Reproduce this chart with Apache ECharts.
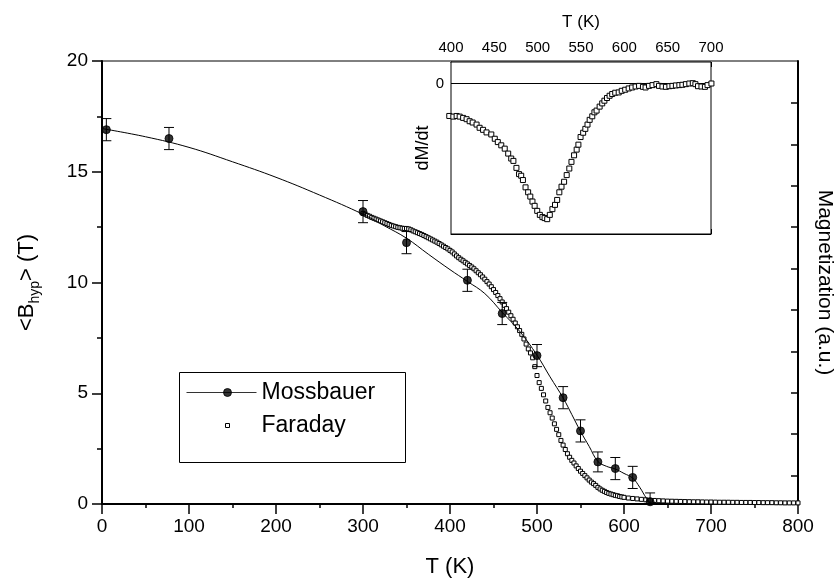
<!DOCTYPE html>
<html>
<head>
<meta charset="utf-8">
<script src="https://cdn.jsdelivr.net/npm/echarts@6/dist/echarts.min.js"></script>
<style>html,body{margin:0;padding:0;background:#fff}#c{width:837px;height:580px}</style>
</head>
<body>
<div id="c"></div>
<script>
// ---- Mossbauer data (T in K, <B_hyp> in T, error) ----
const mossT   = [5, 77, 300, 350, 420, 460, 500, 530, 550, 570, 590, 610, 630];
const mossB   = [16.9, 16.5, 13.2, 11.8, 10.1, 8.6, 6.7, 4.8, 3.3, 1.9, 1.6, 1.2, 0.1];
const mossErr = [0.5, 0.5, 0.5, 0.5, 0.5, 0.5, 0.5, 0.5, 0.5, 0.45, 0.5, 0.5, 0.4];

// ---- Mossbauer fit curve ----
const fitT = [0, 50, 100, 150, 200, 250, 300, 325, 350, 375, 400, 420, 440, 460, 480, 500, 515, 530, 540, 550, 560, 570, 580, 590, 600, 610, 618, 626, 630];
const fitB = [16.95, 16.58, 16.1, 15.45, 14.75, 13.95, 13.08, 12.55, 12.0, 11.28, 10.58, 10.05, 9.5, 8.65, 7.8, 6.72, 5.74, 4.79, 4.04, 3.28, 2.6, 1.92, 1.7, 1.58, 1.38, 1.17, 0.76, 0.24, 0.05];

// ---- Faraday magnetization (a.u., scaled) ----
const faradayT = [300,302.5,305,307.5,310,312.5,315,317.5,320,322.5,325,327.5,330,332.5,335,337.5,340,342.5,345,347.5,
350,352.5,355,357.5,360,362.5,365,367.5,370,372.5,375,377.5,380,382.5,385,387.5,390,392.5,395,397.5,
400,402.5,405,407.5,410,412.5,415,417.5,420,422.5,425,427.5,430,432.5,435,437.5,440,442.5,445,447.5,
450,452.5,455,457.5,460,462.5,465,467.5,470,472.5,475,477.5,480,482.5,485,487.5,490,492.5,495,497.5,
500,502.5,505,507.5,510,512.5,515,517.5,520,522.5,525,527.5,530,532.5,535,537.5,540,542.5,545,547.5,
550,552.5,555,557.5,560,562.5,565,567.5,570,572.5,575,577.5,580,582.5,585,587.5,590,592.5,595,597.5,600,
605,610,615,620,625,630,635,640,645,650,655,660,665,670,675,680,685,690,695,700,
705,710,715,720,725,730,735,740,745,750,755,760,765,770,775,780,785,790,795,800];
const faradayM = [13.12,13.08,13.03,12.99,12.94,12.90,12.86,12.82,12.78,12.74,12.70,12.66,12.62,12.58,12.55,12.52,12.49,12.47,12.45,12.44,
12.44,12.42,12.38,12.33,12.29,12.25,12.21,12.17,12.12,12.07,12.02,11.97,11.92,11.87,11.82,11.76,11.70,11.64,11.58,11.52,
11.45,11.38,11.29,11.20,11.12,11.05,10.98,10.91,10.84,10.77,10.70,10.62,10.53,10.44,10.35,10.25,10.15,10.04,9.93,9.81,
9.68,9.55,9.41,9.27,9.12,8.97,8.82,8.66,8.50,8.34,8.17,8.00,7.83,7.66,7.45,7.22,7.00,6.82,6.60,6.20,
5.80,5.48,5.22,4.93,4.65,4.36,4.12,3.88,3.62,3.37,3.13,2.87,2.66,2.46,2.27,2.11,1.97,1.85,1.72,1.60,
1.48,1.38,1.28,1.18,1.08,0.99,0.92,0.84,0.75,0.68,0.62,0.57,0.52,0.48,0.45,0.42,0.39,0.37,0.34,0.32,0.30,
0.27,0.25,0.23,0.21,0.19,0.17,0.16,0.15,0.14,0.13,0.125,0.12,0.115,0.11,0.105,0.10,0.10,0.095,0.09,0.09,
0.085,0.08,0.08,0.08,0.075,0.075,0.07,0.07,0.07,0.065,0.065,0.06,0.06,0.06,0.055,0.055,0.05,0.05,0.05,0.05];

// ---- Inset dM/dt ----
const insetT = [398,402.7,406.5,410,414,418,421.5,425,429.5,433,437,441,446.5,450.5,454,458,462,466,469.5,472,
475.5,478.5,481,483,486,489,491.5,494,496.5,499.5,502.5,505.5,508,511,514,517,520,522.5,525,527.5,
530.5,533.5,536.5,539,542,545,547,549.5,552.5,555,557.5,560,563,565.5,568,571.5,574.5,577,580,583,
586,589.5,593.5,597,601,605,609,613,617,621.5,624.5,628.5,632.5,637,640,644,648,652,655.5,659.5,
663.5,667,671,675,679,682,685,689,693,696,700.5];
const insetD = [-0.302,-0.308,-0.302,-0.308,-0.32,-0.332,-0.351,-0.363,-0.382,-0.412,-0.431,-0.455,-0.474,-0.514,-0.545,-0.575,-0.606,-0.652,-0.698,-0.72,
-0.785,-0.843,-0.858,-0.898,-0.966,-1.012,-1.052,-1.098,-1.138,-1.185,-1.222,-1.243,-1.252,-1.262,-1.222,-1.169,-1.129,-1.083,-1.012,-0.96,
-0.914,-0.852,-0.791,-0.729,-0.668,-0.615,-0.569,-0.498,-0.458,-0.422,-0.382,-0.338,-0.305,-0.268,-0.252,-0.215,-0.185,-0.16,-0.135,-0.114,
-0.098,-0.086,-0.083,-0.068,-0.058,-0.046,-0.037,-0.028,-0.022,-0.031,-0.037,-0.022,-0.015,-0.006,-0.022,-0.028,-0.031,-0.025,-0.022,-0.018,
-0.015,-0.012,-0.006,0,0.003,-0.006,-0.025,-0.028,-0.031,-0.015,0];

// ---- axis tick values ----
const magTicks = [1.29, 3.16, 5.02, 6.89, 8.76, 10.63, 12.50, 14.36, 16.23, 18.10];
const insetYTicks = [-1, 0];
const insetYLabels = [0];

const FONT = 'Liberation Sans, Arial, Helvetica, sans-serif';
const chart = echarts.init(document.getElementById('c'), null, {renderer: 'canvas'});

const black = '#000';
const option = {
  backgroundColor: '#fff',
  animation: false,
  textStyle: {fontFamily: FONT, color: black},
  grid: [
    {left: 102, right: 39, top: 61, bottom: 76, outerBoundsMode: 'none', containLabel: false,
     show: true, borderColor: black, borderWidth: 1, backgroundColor: 'transparent'},
    {left: 451, top: 62, width: 260, height: 172, outerBoundsMode: 'none', containLabel: false,
     show: true, borderColor: black, borderWidth: 1, backgroundColor: '#fff', z: 3}
  ],
  xAxis: [
    {gridIndex: 0, type: 'value', min: 0, max: 800, interval: 100, position: 'bottom',
     axisLine: {show: true, onZero: false, lineStyle: {color: black, width: 2}},
     axisTick: {show: true, length: 10, lineStyle: {color: black, width: 1.5}},
     minorTick: {show: true, splitNumber: 2, length: 4, lineStyle: {color: black, width: 1.5}},
     axisLabel: {fontSize: 19, margin: 13, color: black, fontFamily: FONT},
     splitLine: {show: false},
     name: 'T (K)', nameLocation: 'middle', nameGap: 52,
     nameTextStyle: {fontSize: 22, color: black, fontFamily: FONT}},
    {gridIndex: 1, type: 'value', min: 400, max: 700, interval: 50, position: 'top',
     axisLine: {show: true, onZero: false, lineStyle: {color: black, width: 1}},
     axisTick: {show: true, inside: true, length: 5, lineStyle: {color: black, width: 1}},
     minorTick: {show: true, splitNumber: 2, length: 3, lineStyle: {color: black, width: 1}},
     axisLabel: {fontSize: 15, margin: 7, color: black, fontFamily: FONT},
     splitLine: {show: false},
     name: 'T (K)', nameLocation: 'middle', nameGap: 31,
     nameTextStyle: {fontSize: 17, color: black, fontFamily: FONT}},
    {gridIndex: 1, type: 'value', min: 400, max: 700, interval: 50, position: 'bottom',
     axisLine: {show: true, onZero: false, lineStyle: {color: black, width: 1}},
     axisTick: {show: true, inside: true, length: 5, lineStyle: {color: black, width: 1}},
     minorTick: {show: true, splitNumber: 2, length: 3, lineStyle: {color: black, width: 1}},
     axisLabel: {show: false},
     splitLine: {show: false}}
  ],
  yAxis: [
    {gridIndex: 0, type: 'value', min: 0, max: 20, interval: 5, position: 'left',
     axisLine: {show: true, onZero: false, lineStyle: {color: black, width: 2}},
     axisTick: {show: true, length: 10, lineStyle: {color: black, width: 1.5}},
     minorTick: {show: true, splitNumber: 2, length: 5, lineStyle: {color: black, width: 1.5}},
     axisLabel: {fontSize: 19, margin: 14, color: black, fontFamily: FONT},
     splitLine: {show: false},
     name: '<B{sub|hyp}> (T)', nameLocation: 'middle', nameRotate: 90, nameGap: 60,
     nameTextStyle: {fontSize: 22, color: black, fontFamily: FONT, lineHeight: 30,
       rich: {sub: {fontSize: 14, lineHeight: 14, verticalAlign: 'bottom', color: black, fontFamily: FONT}}}},
    {gridIndex: 0, type: 'value', min: 0, max: 20, position: 'right',
     axisLine: {show: true, onZero: false, lineStyle: {color: black, width: 2}},
     axisTick: {show: true, inside: true, length: 7, customValues: magTicks, lineStyle: {color: black, width: 1.5}},
     axisLabel: {show: false},
     splitLine: {show: false},
     name: 'Magnetization (a.u.)', nameLocation: 'middle', nameRotate: -90, nameGap: 16,
     nameTextStyle: {fontSize: 21, color: black, fontFamily: FONT}},
    {gridIndex: 1, type: 'value', min: -1.4, max: 0.2, position: 'left',
     axisLine: {show: true, onZero: false, lineStyle: {color: black, width: 1}},
     axisTick: {show: true, inside: true, length: 5, customValues: insetYTicks, lineStyle: {color: black, width: 1}},
     axisLabel: {show: true, customValues: insetYLabels, fontSize: 15, margin: 7, color: black, fontFamily: FONT},
     splitLine: {show: false},
     name: 'dM/dt', nameLocation: 'middle', nameRotate: 90, nameGap: 11,
     nameTextStyle: {fontSize: 18, color: black, fontFamily: FONT}}
  ],
  legend: {
    left: 181, top: 376, orient: 'vertical', itemWidth: 70, itemHeight: 10, itemGap: 10,
    selectedMode: false,
    textStyle: {fontSize: 23, color: black, fontFamily: FONT},
    data: [
      {name: 'Mossbauer', icon: 'path://M0,0M70,10M0,5L70,5M37,5A4,4,0,1,0,45,5A4,4,0,1,0,37,5Z',
       itemStyle: {color: black, borderColor: black, borderWidth: 1}},
      {name: 'Faraday', icon: 'path://M0,0M70,10M39,3L43,3L43,7L39,7Z',
       itemStyle: {color: '#fff', borderColor: black, borderWidth: 1}}
    ]
  },
  graphic: [
    {type: 'rect', left: 177, top: 370, shape: {width: 226, height: 90},
     style: {fill: 'none', stroke: black, lineWidth: 1}, z: 10, silent: true}
  ],
  series: [
    {name: 'Faraday', type: 'scatter', xAxisIndex: 0, yAxisIndex: 1,
     symbol: 'rect', symbolSize: 4,
     itemStyle: {color: '#fff', borderColor: black, borderWidth: 1, opacity: 1},
     data: faradayT.map((t, i) => [t, faradayM[i]]), z: 2},
    {name: 'Mossbauer fit', type: 'line', xAxisIndex: 0, yAxisIndex: 0,
     smooth: 0.4, showSymbol: false, symbol: 'none',
     lineStyle: {color: black, width: 1},
     data: fitT.map((t, i) => [t, fitB[i]]), z: 3},
    {name: 'Mossbauer error', type: 'custom', xAxisIndex: 0, yAxisIndex: 0, clip: true,
     data: mossT.map((t, i) => [t, mossB[i], mossErr[i]]),
     renderItem: function (params, api) {
       const x = api.value(0), y = api.value(1), e = api.value(2);
       const top = api.coord([x, y + e]);
       const bot = api.coord([x, y - e]);
       const w = 5;
       const st = {stroke: black, lineWidth: 1};
       return {type: 'group', children: [
         {type: 'line', shape: {x1: top[0], y1: top[1], x2: bot[0], y2: bot[1]}, style: st},
         {type: 'line', shape: {x1: top[0] - w, y1: top[1], x2: top[0] + w, y2: top[1]}, style: st},
         {type: 'line', shape: {x1: bot[0] - w, y1: bot[1], x2: bot[0] + w, y2: bot[1]}, style: st}
       ]};
     }, z: 4},
    {name: 'Mossbauer', type: 'scatter', xAxisIndex: 0, yAxisIndex: 0,
     symbol: 'circle', symbolSize: 8,
     itemStyle: {color: black, borderColor: black, borderWidth: 1},
     data: mossT.map((t, i) => [t, mossB[i]]), z: 5},
    {name: 'dM/dt', type: 'scatter', xAxisIndex: 1, yAxisIndex: 2, clip: false,
     symbol: 'rect', symbolSize: 5,
     itemStyle: {color: '#fff', borderColor: black, borderWidth: 1, opacity: 1},
     data: insetT.map((t, i) => [t, insetD[i]]),
     markLine: {silent: true, symbol: ['none', 'none'], label: {show: false},
       lineStyle: {color: black, width: 1, type: 'solid'},
       data: [{yAxis: 0}]},
     z: 6}
  ]
};
chart.setOption(option);
</script>
</body>
</html>
